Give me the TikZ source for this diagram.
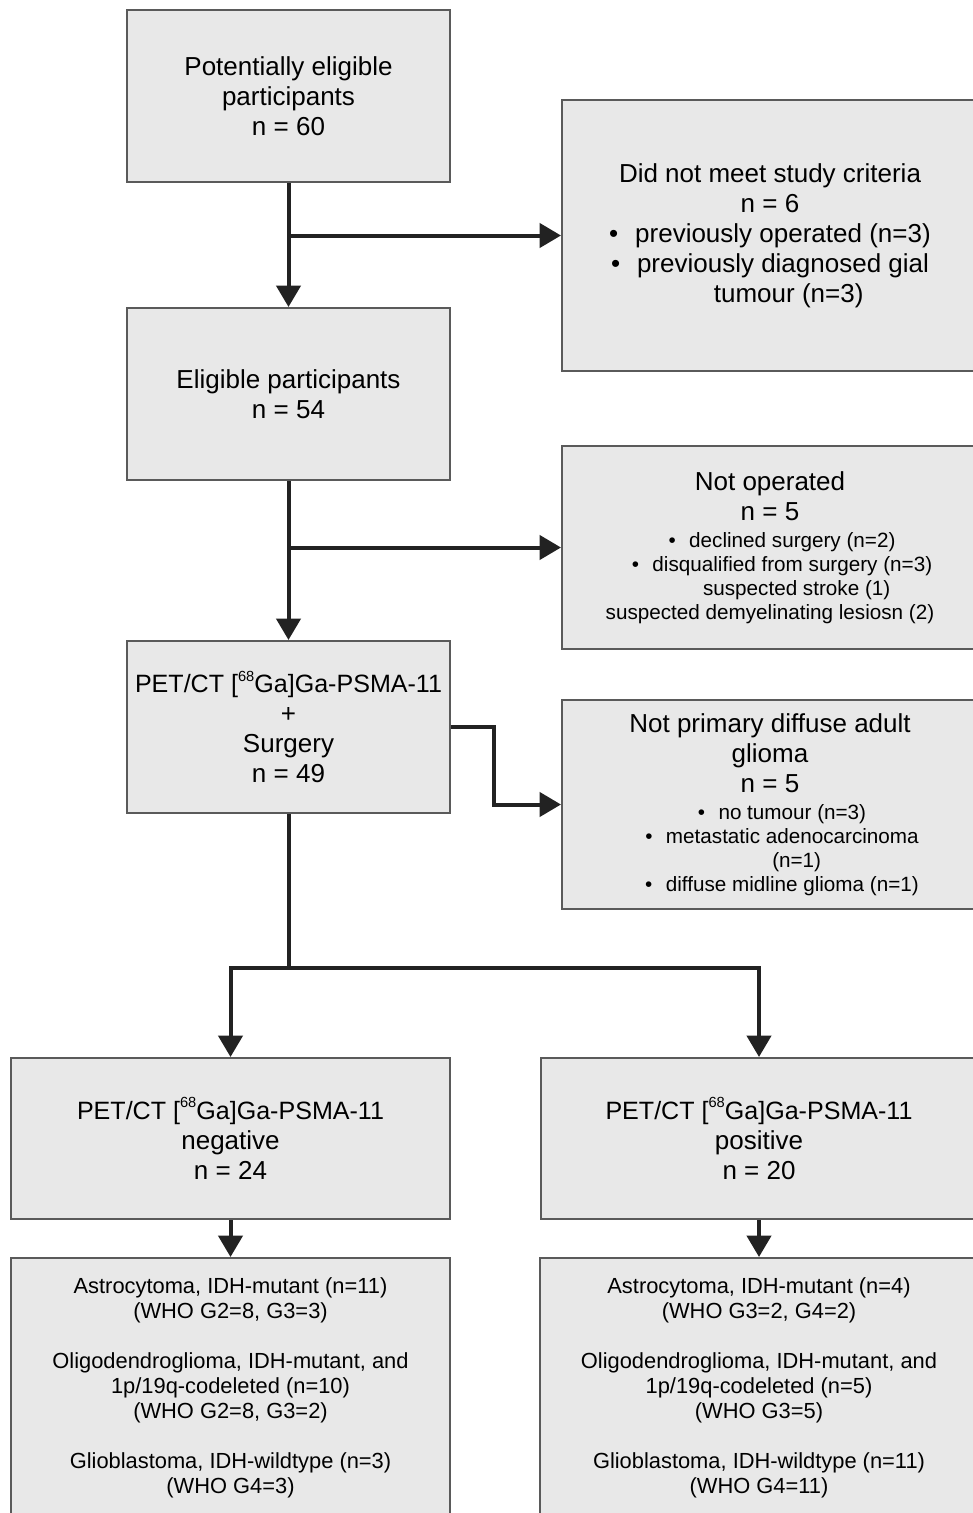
\documentclass[tikz,border=0pt]{standalone}
\usepackage{fontspec}
\setmainfont{Liberation Sans}
\usetikzlibrary{positioning, arrows.meta}
\definecolor{boxfill}{HTML}{E8E8E8}
\definecolor{boxstroke}{HTML}{5A5A5A}
\definecolor{flowline}{HTML}{222222}
\newcommand{\smalltxt}{\fontsize{15.5}{18}\selectfont}
\newcommand{\bul}{\textbullet\hspace{0.65em}}
\newcommand{\ga}{{\fontsize{18.8}{22.5}\selectfont PET/CT [\raisebox{0.45em}{\fontsize{11}{11}\selectfont 68}Ga]Ga-PSMA-11}}

\begin{document}
\begin{tikzpicture}[
    x=0.75pt, y=-0.75pt,
    stage/.style={
        draw=boxstroke, fill=boxfill, line width=1.5pt,
        minimum width=242.25pt, minimum height=129pt,
        align=center, inner sep=0pt,
        font=\fontsize{19.5}{22.5}\selectfont
    },
    excl/.style={
        stage, minimum width=312pt
    },
    result/.style={
        stage, minimum width=328pt, minimum height=195pt,
        font=\fontsize{16.4}{18.75}\selectfont
    },
    arr/.style={
        -{Triangle[length=16pt, width=18pt]}, line width=3pt, color=flowline
    },
    link/.style={
        line width=3pt, color=flowline
    }
]
\useasboundingbox (0,0) rectangle (973,1513);
\clip (0,0) rectangle (973,1513);

% Main column
\node[stage] (pot) at (288.5, 96) {Potentially eligible\\participants\\n = 60};
\node[stage] (elig) at (288.5, 394) {Eligible participants\\n = 54};
\node[stage] (pet) at (288.5, 727) {\ga\\+\\Surgery\\n = 49};

% Exclusions on the right
\node[excl, minimum height=203.25pt] (crit) at (770, 235.5)
    {Did not meet study criteria\\n = 6\\
     \bul previously operated (n=3)\\
     \bul previously diagnosed gial\\
     \hspace*{28pt}tumour (n=3)};
\node[excl, minimum height=152.25pt] (notop) at (770, 547.5)
    {Not operated\\n = 5\\[-2pt]
     \smalltxt\hspace*{18pt}\bul declined surgery (n=2)\\[-4.5pt]
     \smalltxt\hspace*{18pt}\bul disqualified from surgery (n=3)\\[-4.5pt]
     \smalltxt\hspace*{40pt}suspected stroke (1)\\[-4.5pt]
     \smalltxt suspected demyelinating lesiosn (2)};
\node[excl, minimum height=156.75pt] (notgl) at (770, 804.5)
    {Not primary diffuse adult\\glioma\\n = 5\\[-2pt]
     \smalltxt\hspace*{18pt}\bul no tumour (n=3)\\[-4.5pt]
     \smalltxt\hspace*{18pt}\bul metastatic adenocarcinoma\\[-4.5pt]
     \smalltxt\hspace*{40pt}(n=1)\\[-4.5pt]
     \smalltxt\hspace*{18pt}\bul diffuse midline glioma (n=1)};

% PSMA groups
\node[stage, minimum width=329.25pt, minimum height=120.75pt] (neg) at (230.5, 1138.5)
    {\ga\\negative\\n = 24};
\node[stage, minimum width=327pt, minimum height=120.75pt] (pos) at (759, 1138.5)
    {\ga\\positive\\n = 20};

% Histology
\node[result, minimum width=329.25pt] (histneg) at (230.5, 1388)
    {Astrocytoma, IDH-mutant (n=11)\\(WHO G2=8, G3=3)\\[18.75pt]
     Oligodendroglioma, IDH-mutant, and\\1p/19q-codeleted (n=10)\\(WHO G2=8, G3=2)\\[18.75pt]
     Glioblastoma, IDH-wildtype (n=3)\\(WHO G4=3)};
\node[result] (histpos) at (759, 1388)
    {Astrocytoma, IDH-mutant (n=4)\\(WHO G3=2, G4=2)\\[18.75pt]
     Oligodendroglioma, IDH-mutant, and\\1p/19q-codeleted (n=5)\\(WHO G3=5)\\[18.75pt]
     Glioblastoma, IDH-wildtype (n=11)\\(WHO G4=11)};

% Flow
\draw[arr] (pot.south) -- (elig.north);
\draw[arr] (pot.south |- crit.west) -- (crit.west);
\draw[arr] (elig.south) -- (pet.north);
\draw[arr] (elig.south |- notop.west) -- (notop.west);
\draw[arr] (pet.east) -- ++(43,0) |- (notgl.west);

\coordinate (split) at (288.5, 968);
\draw[link] (pet.south) -- (split);
\draw[arr] ([xshift=1.5pt]split) -| (neg.north);
\draw[arr] ([xshift=-1.5pt]split) -| (pos.north);

\draw[arr] (neg.south) -- (histneg.north);
\draw[arr] (pos.south) -- (histpos.north);

\end{tikzpicture}
\end{document}
